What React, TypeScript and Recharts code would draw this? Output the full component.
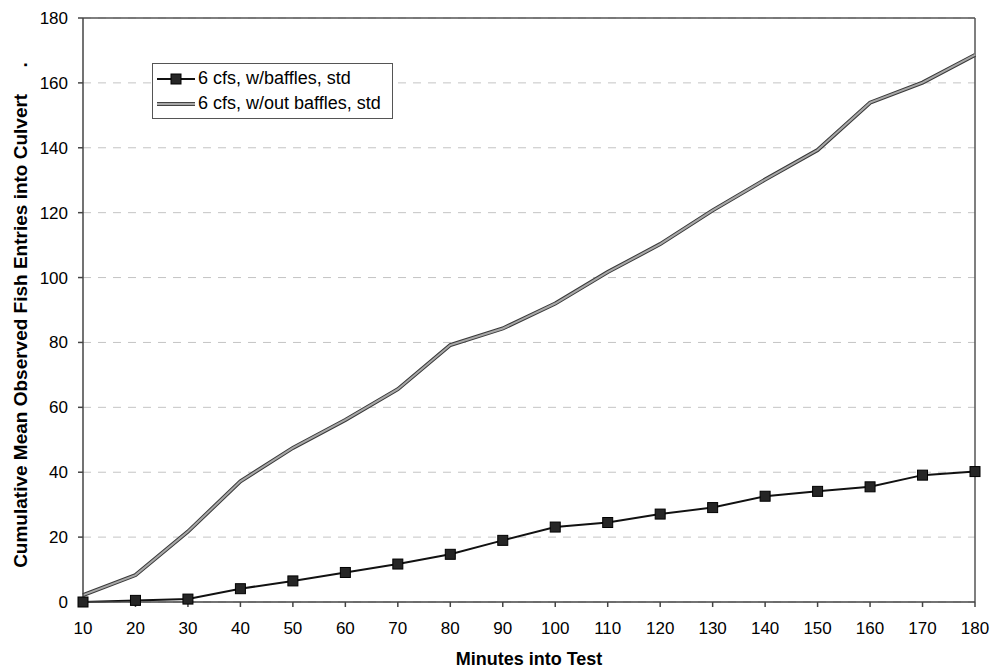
import { CartesianGrid, Legend, Line, LineChart, ReferenceLine, XAxis, YAxis } from 'recharts';

const minutes = [10, 20, 30, 40, 50, 60, 70, 80, 90, 100, 110, 120, 130, 140, 150, 160, 170, 180];
const withBaffles = [0, 0.5, 0.9, 4.1, 6.5, 9.1, 11.7, 14.7, 19.0, 23.1, 24.5, 27.1, 29.1, 32.6, 34.1, 35.5, 39.1, 40.2];
const withoutBaffles = [2.1, 8.3, 21.7, 37.2, 47.5, 56.1, 65.6, 79.2, 84.3, 92.0, 101.7, 110.3, 120.7, 130.2, 139.3, 153.9, 160.1, 168.6];
const yTicks = [0, 20, 40, 60, 80, 100, 120, 140, 160, 180];
const seriesNames = ['6 cfs, w/baffles, std', '6 cfs, w/out baffles, std'];

const data = minutes.map((m, i) => ({ min: m, baffles: withBaffles[i], noBaffles: withoutBaffles[i] }));

const font = "Arial, 'Liberation Sans', sans-serif";

function SquareDot(props: any) {
  const { cx, cy, index } = props;
  return <rect key={index} x={cx - 5} y={cy - 5} width={10} height={10} fill="#262626" stroke="#000" strokeWidth={1} />;
}

function LegendBox() {
  return (
    <div style={{ border: '1px solid #555', background: '#fff', padding: '2px 8px 2px 4px', fontFamily: font, fontSize: 18, color: '#000', lineHeight: '25px', width: 227 }}>
      <div style={{ display: 'flex', alignItems: 'center' }}>
        <svg width={38} height={12} style={{ marginRight: 3 }}>
          <line x1={0} y1={6} x2={38} y2={6} stroke="#111" strokeWidth={2} />
          <rect x={14} y={1} width={10} height={10} fill="#262626" stroke="#000" />
        </svg>
        {seriesNames[0]}
      </div>
      <div style={{ display: 'flex', alignItems: 'center' }}>
        <svg width={38} height={12} style={{ marginRight: 3 }}>
          <line x1={0} y1={6} x2={38} y2={6} stroke="#444" strokeWidth={4} />
          <line x1={0} y1={6} x2={38} y2={6} stroke="#a8a8a8" strokeWidth={2} />
        </svg>
        {seriesNames[1]}
      </div>
    </div>
  );
}

export default function App() {
  return (
    <div style={{ position: 'absolute', left: 0, top: 0, width: 991, height: 669, background: '#fff' }}>
      <LineChart width={991} height={669} data={data} margin={{ top: 18, right: 16, bottom: 0, left: 0 }}>
        <CartesianGrid vertical={false} stroke="#c4c4c4" strokeDasharray="8 7" />
        <XAxis
          dataKey="min"
          type="number"
          domain={[10, 180]}
          ticks={minutes}
          height={67}
          stroke="#444"
          strokeWidth={1.5}
          tickSize={5}
          tickMargin={15}
          tick={{ fill: '#000', fontSize: 17, fontFamily: font }}
          label={{
            content: () => (
              <text x={529} y={665} textAnchor="middle" fontFamily={font} fontSize={18} fontWeight="bold" fill="#000">
                Minutes into Test
              </text>
            ),
          }}
        />
        <YAxis
          type="number"
          domain={[0, 180]}
          ticks={yTicks}
          width={83}
          stroke="#444"
          strokeWidth={1.5}
          tickSize={5}
          tickMargin={10}
          tick={{ fill: '#000', fontSize: 17, fontFamily: font }}
          label={{
            content: () => (
              <text x={27} y={315} textAnchor="middle" transform="rotate(-90, 27, 315)" fontFamily={font} fontSize={19} fontWeight="bold" fill="#000" style={{ whiteSpace: 'pre' }}>
                {'Cumulative Mean Observed Fish Entries into Culvert     .'}
              </text>
            ),
          }}
        />
        <ReferenceLine y={180} stroke="#555" strokeWidth={1.5} />
        <ReferenceLine x={180} stroke="#555" strokeWidth={1.5} />
        <Legend
          layout="vertical"
          align="center"
          verticalAlign="middle"
          content={() => <LegendBox />}
          wrapperStyle={{ position: 'absolute', left: 152, top: 63, width: 'auto' }}
        />
        <Line dataKey="noBaffles" stroke="#3a3a3a" strokeWidth={4} dot={false} isAnimationActive={false} legendType="none" />
        <Line dataKey="noBaffles" name={seriesNames[1]} stroke="#a8a8a8" strokeWidth={2} dot={false} isAnimationActive={false} />
        <Line dataKey="baffles" name={seriesNames[0]} stroke="#111" strokeWidth={2} dot={<SquareDot />} isAnimationActive={false} />
      </LineChart>
    </div>
  );
}
